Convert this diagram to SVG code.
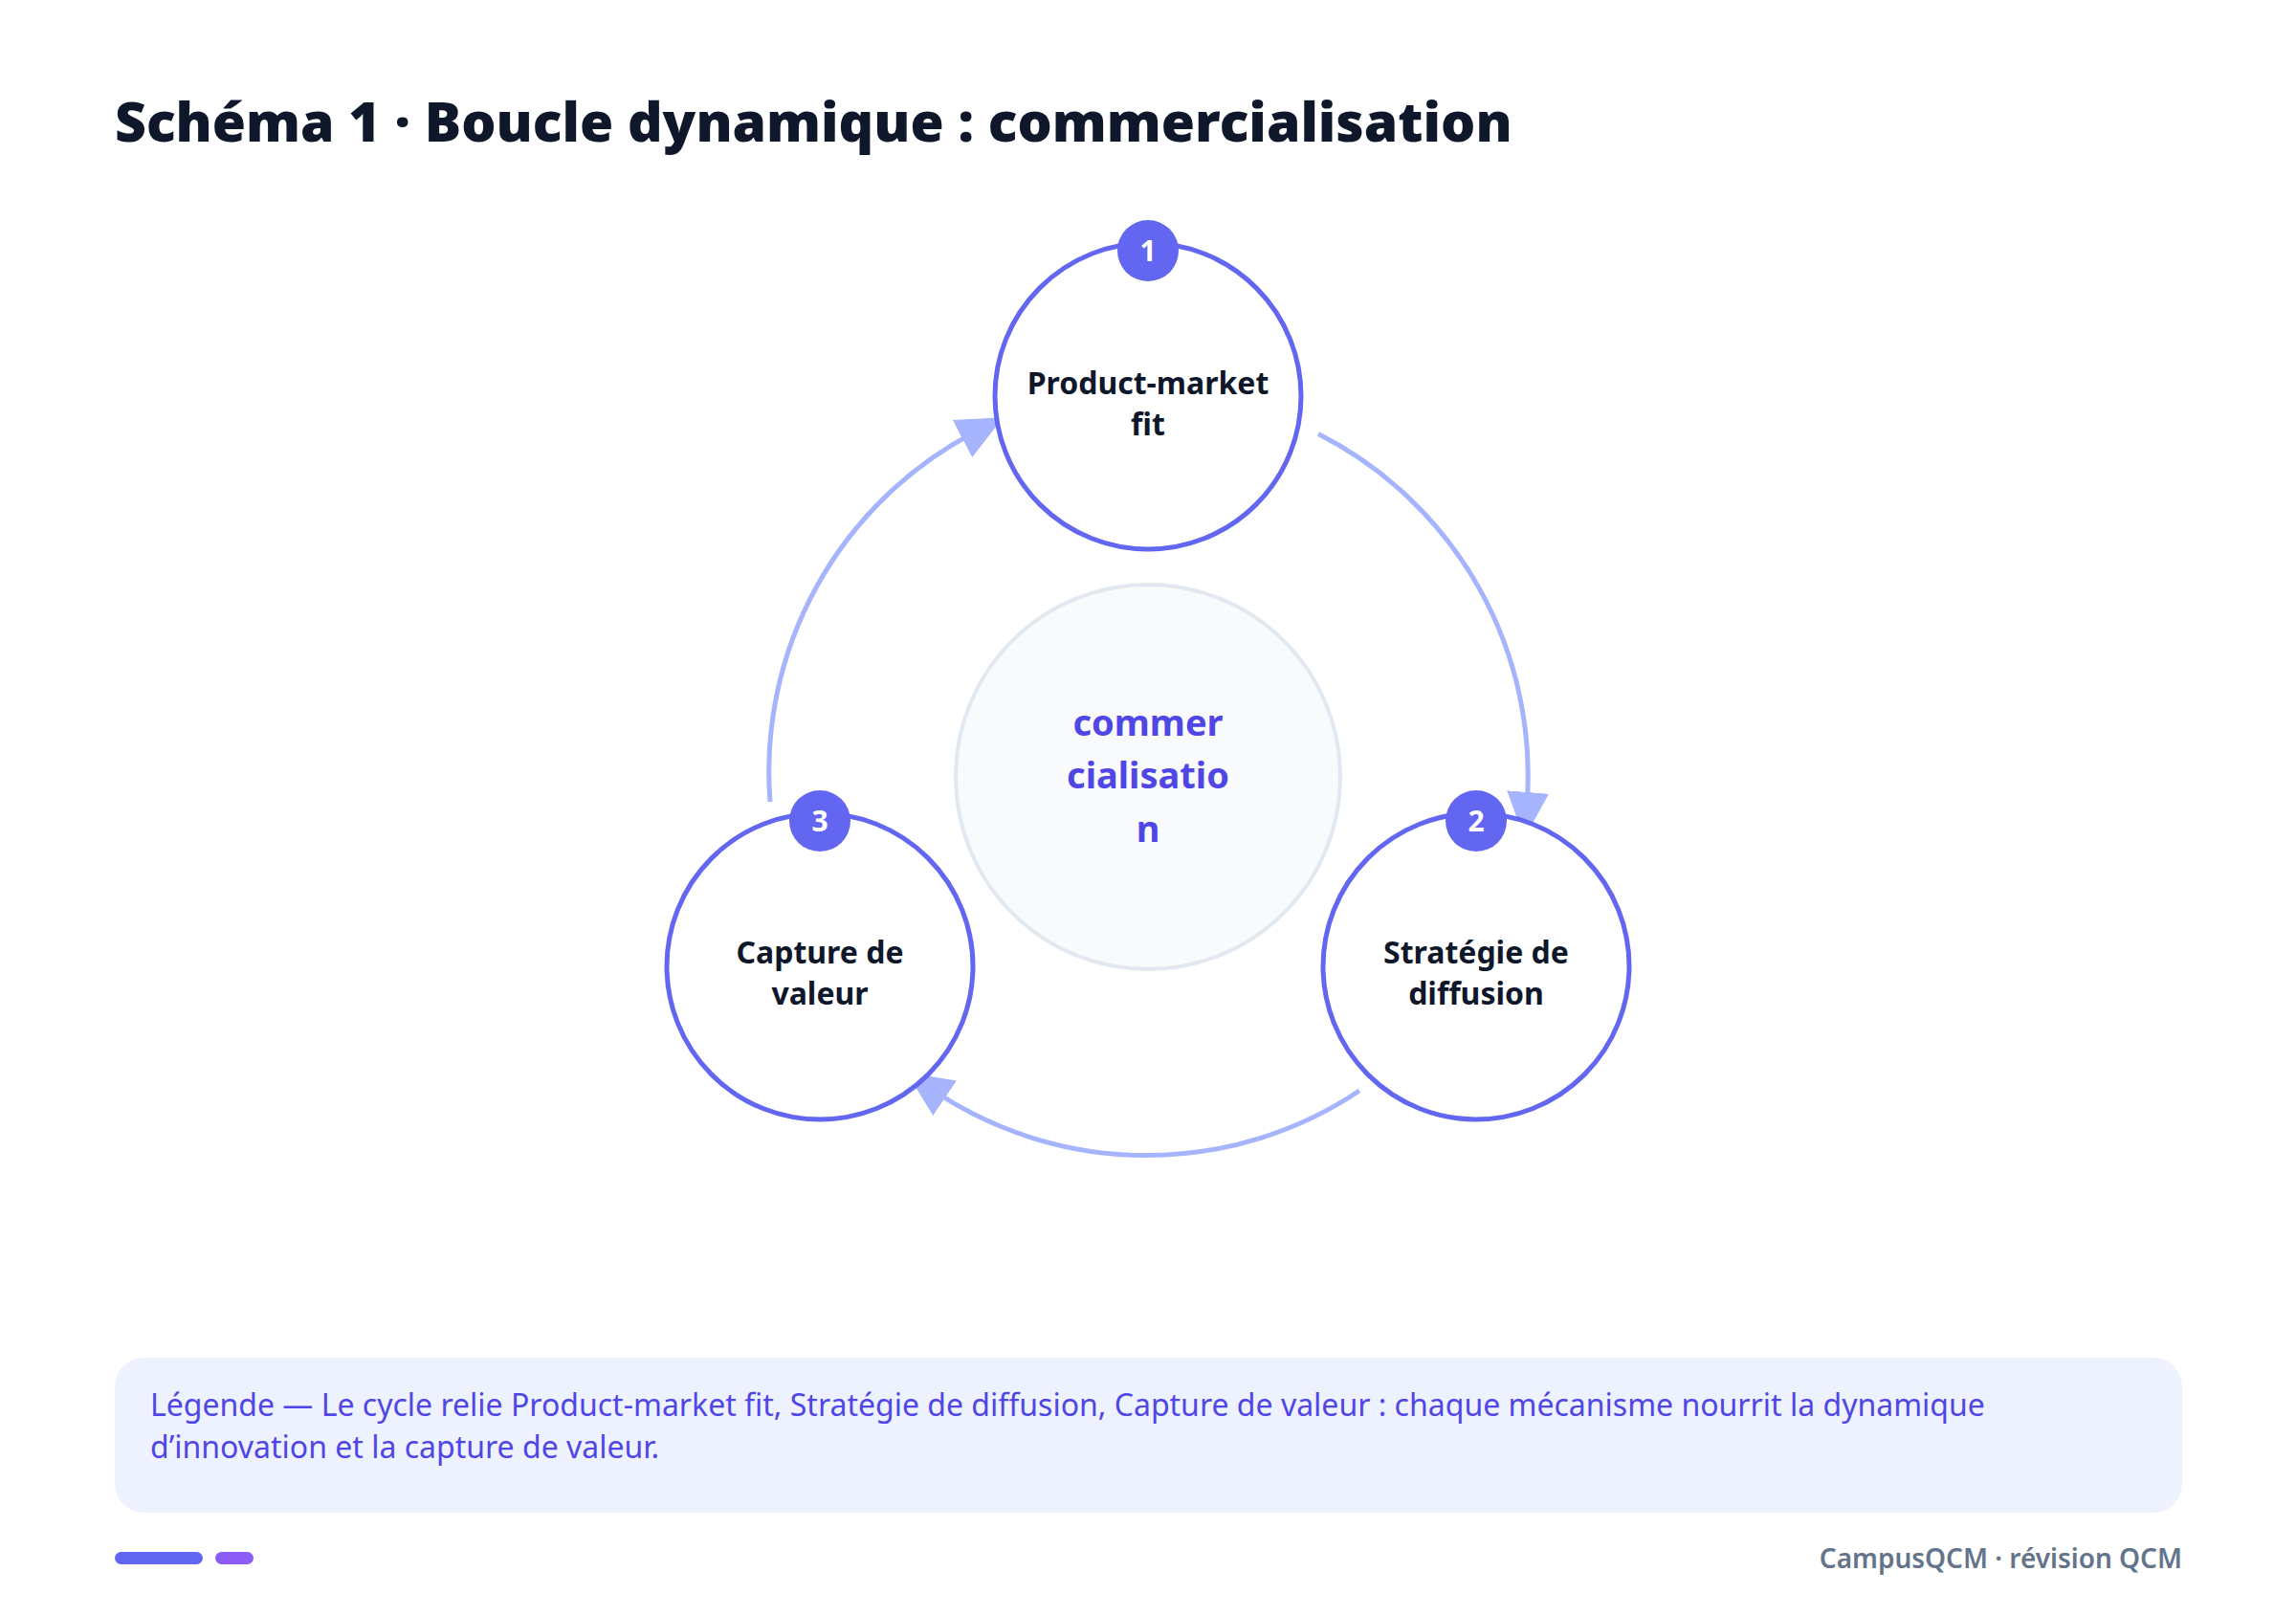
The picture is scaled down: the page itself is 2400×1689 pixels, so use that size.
<svg xmlns="http://www.w3.org/2000/svg" width="2400" height="1689" viewBox="0 0 2400 1689">
<defs>
<marker id="ah" markerUnits="userSpaceOnUse" markerWidth="48" markerHeight="44" refX="14" refY="22" orient="auto">
<path d="M0,0 L48,22 L0,44 Z" fill="#a5b4fc"/>
</marker>
<style>
text{font-family:"Noto Sans","Open Sans","DejaVu Sans",sans-serif}
.node{fill:#fff;stroke:#6366f1;stroke-width:5}
.badge{fill:#6366f1}
.bn{fill:#fff;font-weight:700;font-size:30px;text-anchor:middle}
.lbl{fill:#0f172a;font-weight:700;font-size:32px;text-anchor:middle}
.arc{fill:none;stroke:#a5b4fc;stroke-width:5}
</style>
</defs>
<rect width="2400" height="1689" fill="#fff"/>
<text x="120" y="148" font-size="57" font-weight="900" fill="#0f172a">Schéma 1 · Boucle dynamique : commercialisation</text>
<g id="center">
<circle cx="1200" cy="812" r="201" fill="#f8fafc" stroke="#e2e8f0" stroke-width="4"/>
<text x="1200" y="769" font-size="38" font-weight="700" fill="#4f46e5" text-anchor="middle">commer</text>
<text x="1200" y="824" font-size="38" font-weight="700" fill="#4f46e5" text-anchor="middle">cialisatio</text>
<text x="1200" y="880" font-size="38" font-weight="700" fill="#4f46e5" text-anchor="middle">n</text>
</g>
<g id="connectors">
<path class="arc" marker-end="url(#ah)" d="M1378,453.6 A400,400 0 0 1 1596,842"/>
<path class="arc" marker-end="url(#ah)" d="M1421,1140 A400,400 0 0 1 976,1140"/>
<path class="arc" marker-end="url(#ah)" d="M805,838 A400,400 0 0 1 1018.4,452"/>
</g>
<g id="n1">
<circle class="node" cx="1200" cy="414" r="160"/>
<circle class="badge" cx="1200" cy="262" r="32"/>
<text class="bn" x="1200" y="273">1</text>
<text class="lbl" x="1200" y="412">Product-market</text>
<text class="lbl" x="1200" y="455">fit</text>
</g>
<g id="n2">
<circle class="node" cx="1543" cy="1010" r="160"/>
<circle class="badge" cx="1543" cy="858" r="32"/>
<text class="bn" x="1543" y="869">2</text>
<text class="lbl" x="1543" y="1007">Stratégie de</text>
<text class="lbl" x="1543" y="1050">diffusion</text>
</g>
<g id="n3">
<circle class="node" cx="857" cy="1010" r="160"/>
<circle class="badge" cx="857" cy="858" r="32"/>
<text class="bn" x="857" y="869">3</text>
<text class="lbl" x="857" y="1007">Capture de</text>
<text class="lbl" x="857" y="1050">valeur</text>
</g>
<g id="legend">
<rect x="120" y="1419" width="2161" height="162" rx="30" fill="#eef2ff"/>
<text x="157" y="1480" font-size="32" fill="#4f46e5">Légende — Le cycle relie Product-market fit, Stratégie de diffusion, Capture de valeur : chaque mécanisme nourrit la dynamique</text>
<text x="157" y="1524" font-size="32" fill="#4f46e5">d’innovation et la capture de valeur.</text>
</g>
<g id="footer">
<rect x="120" y="1622" width="92" height="13" rx="6.5" fill="#6366f1"/>
<rect x="225" y="1622" width="40" height="13" rx="6.5" fill="#8b5cf6"/>
<text x="2281" y="1639" font-size="28" font-weight="600" fill="#64748b" text-anchor="end">CampusQCM · révision QCM</text>
</g>
</svg>
